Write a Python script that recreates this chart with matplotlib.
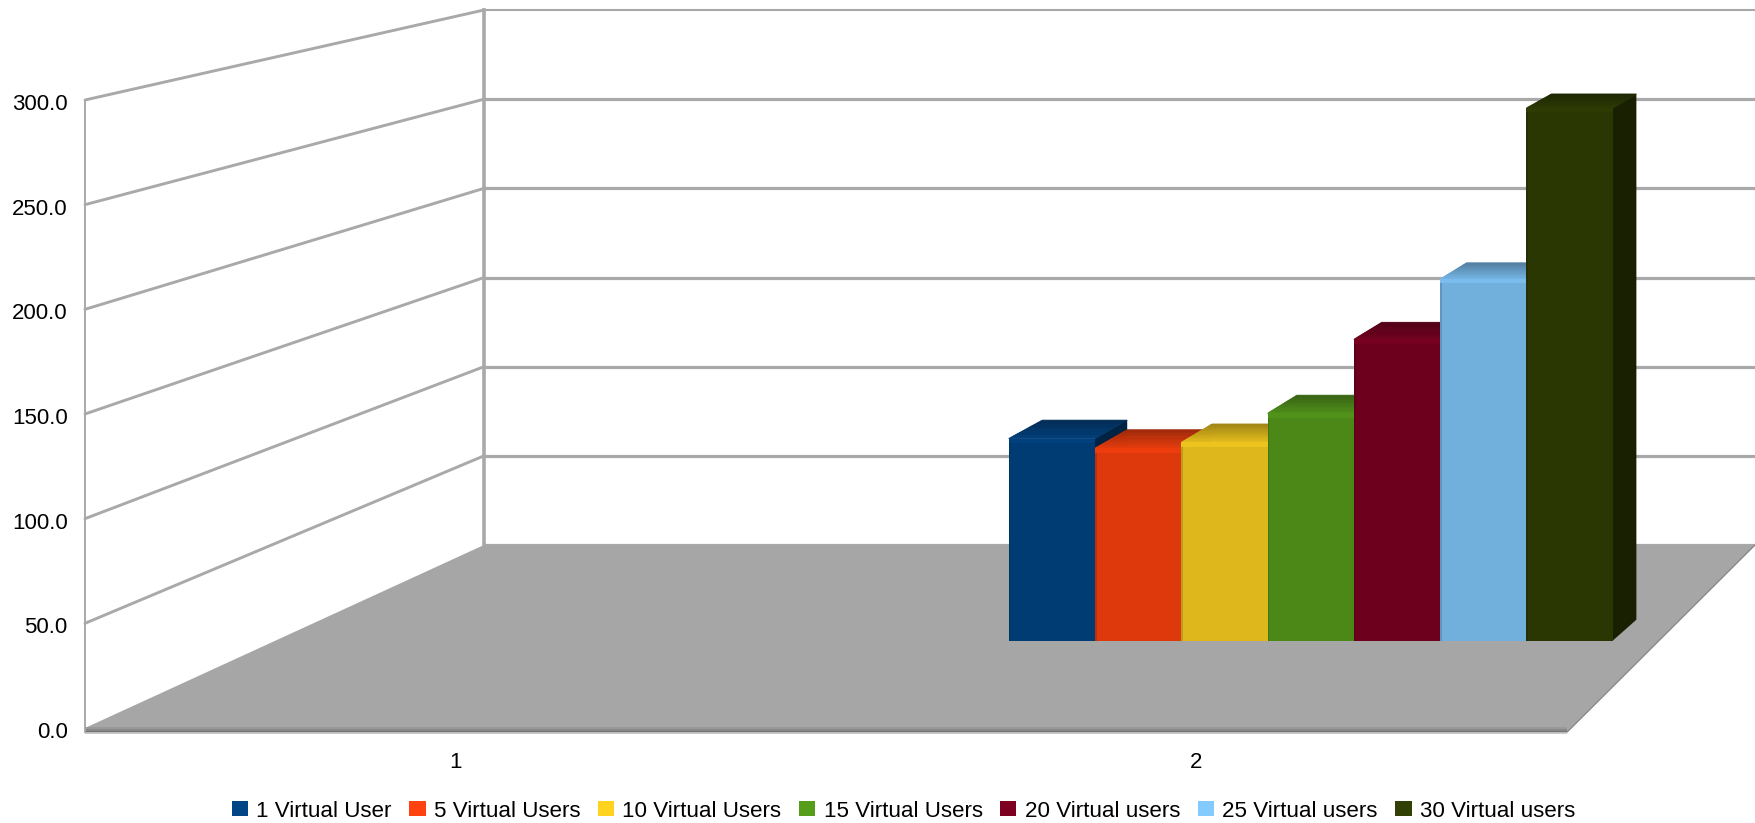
#!/usr/bin/env python
# -*- coding: utf-8 -*-

import matplotlib
matplotlib.use("Agg")

import matplotlib.pyplot as plt
import numpy as np
from matplotlib.patches import ConnectionPatch, Patch, Polygon
from matplotlib.transforms import IdentityTransform, ScaledTranslation

W, H = 1755, 823

series_names = ["1 Virtual User", "5 Virtual Users", "10 Virtual Users", "15 Virtual Users",
                "20 Virtual users", "25 Virtual users", "30 Virtual users"]
series_values = [104, 99, 102, 117, 155, 186, 274]
series_colors = ["#004586", "#ff420e", "#ffd320", "#579d1c", "#7e0021", "#83caff", "#314004"]
value_ticks = [0, 50, 100, 150, 200, 250, 300]
value_labels = ["0.0", "50.0", "100.0", "150.0", "200.0", "250.0", "300.0"]
categories = [1, 2]

GREY = "#a9a9a9"

plt.rcParams["font.family"] = ["Liberation Sans", "DejaVu Sans"]


def box(left, right, top, bottom):
    # pixel box (from the top left) to figure fractions
    return [left / W, 1 - bottom / H, (right - left) / W, (bottom - top) / H]


def shade(color, f):
    return tuple(np.array(matplotlib.colors.to_rgb(color)) * f)


def depth_dx(s):
    # the depth offset gets smaller to the right, the picture has perspective
    return 0.39 - (s + 0.5) * 0.0165


fig = plt.figure(figsize=(W / 100, H / 100), dpi=100)
fig.patch.set_facecolor("white")

# back wall
ax_back = fig.add_axes(box(484, 1755, 10, 545), zorder=0)
ax_back.set_xlim(0, 1)
ax_back.set_ylim(0, 300)
ax_back.set_yticks(value_ticks[:-1])
ax_back.set_xticks([])
ax_back.tick_params(left=False, labelleft=False)
ax_back.grid(axis="y", color=GREY, lw=2.3)
ax_back.axhline(300, color=GREY, lw=1.5, clip_on=False)
for side in ["top", "right", "bottom"]:
    ax_back.spines[side].set_visible(False)
ax_back.spines["left"].set_color(GREY)
ax_back.spines["left"].set_linewidth(2.6)

# front plane, carries the real tick labels
ax_front = fig.add_axes(box(85, 1567, 100, 728), zorder=2)
ax_front.patch.set_alpha(0)
ax_front.set_xlim(0.5, 2.5)
ax_front.set_ylim(0, 300)
ax_front.set_yticks(value_ticks)
ax_front.set_yticklabels(value_labels, fontsize=16, color="black")
ax_front.set_xticks(categories)
ax_front.set_xticklabels([str(c) for c in categories], fontsize=16, color="black")
ax_front.tick_params(left=False, bottom=False)
ax_front.tick_params(axis="y", pad=9)
ax_front.tick_params(axis="x", pad=13.5)
down = ScaledTranslation(0, -2 / 100, fig.dpi_scale_trans)
for lab in ax_front.get_yticklabels():
    lab.set_transform(lab.get_transform() + down)
for side in ["top", "right", "bottom"]:
    ax_front.spines[side].set_visible(False)
ax_front.spines["left"].set_color(GREY)
ax_front.spines["left"].set_linewidth(1.4)
ax_front.spines["left"].set_bounds(-2, 300)

# side wall lines
for v in value_ticks[1:]:
    fig.add_artist(ConnectionPatch(xyA=(0.5, v), coordsA=ax_front.transData,
                                   xyB=(0, v), coordsB=ax_back.transData,
                                   color=GREY, lw=2.1, zorder=1))

# floor
corners = [ax_front.transData.transform((0.5, 0)), ax_back.transData.transform((0, 0)),
           ax_back.transData.transform((1, 0)), ax_front.transData.transform((2.5, -2)),
           ax_front.transData.transform((0.5, -2))]
fig.add_artist(Polygon(corners, closed=True, facecolor="#a6a6a6", edgecolor="none",
                       transform=IdentityTransform(), zorder=1))
fig.add_artist(ConnectionPatch(xyA=(2.5, -2), coordsA=ax_front.transData,
                               xyB=(1, 0), coordsB=ax_back.transData,
                               color="#8a8a8a", lw=1.0, zorder=1))
for v, c in [(-0.2, "#989898"), (-1.0, "#848484"), (-1.8, "#6f6f6f"), (-2.6, "#c4c4c4")]:
    ax_front.plot([0.5, 2.5], [v, v], color=c, lw=1.3, clip_on=False, solid_capstyle="butt")

# bars
ax_bars = fig.add_axes(box(1008.7, 1612.7, 640.7 - 300 * 1.944, 640.7), zorder=5)
ax_bars.patch.set_alpha(0)
ax_bars.axis("off")
ax_bars.set_xlim(-0.5, 6.5)
ax_bars.set_ylim(0, 300)

base_rise = 10.8
back_scale = 0.987

for i, (v, c) in enumerate(zip(series_values, series_colors)):
    z = 10 + i * 3
    xl, xr = i - 0.5, i + 0.5
    dl, dr = depth_dx(xl), depth_dx(xr)
    back_top = v * back_scale + base_rise

    # side face
    ax_bars.add_patch(Polygon([(xr, 0), (xr + dr, base_rise), (xr + dr, back_top), (xr, v)],
                              facecolor=shade(c, 0.5), edgecolor="none", clip_on=False, zorder=z))

    # top face, dark at the back and bright at the front
    n = 16
    for k in range(n):
        f0, f1 = k / n, (k + 1) / n
        pts = [(xl + dl * f0, v + (back_top - v) * f0), (xr + dr * f0, v + (back_top - v) * f0),
               (xr + dr * f1, v + (back_top - v) * f1), (xl + dl * f1, v + (back_top - v) * f1)]
        col = shade(c, 0.9 - 0.28 * f0)
        ax_bars.add_patch(Polygon(pts, facecolor=col, edgecolor=col, lw=0.6, clip_on=False, zorder=z + 1))

    # front face
    ax_bars.bar(i, v, width=1, color=shade(c, 0.865), edgecolor="none", clip_on=False, zorder=z + 2)
    ax_bars.bar(i - 0.49, v, width=0.02, color=shade(c, 0.74), clip_on=False, zorder=z + 2)
    ax_bars.bar(i, 2.2, bottom=v - 2.2, width=1, color=shade(c, 0.93), clip_on=False, zorder=z + 2)

# legend
handles = [Patch(facecolor=c, edgecolor="none") for c in series_colors]
fig.legend(handles, series_names, ncol=7, loc="center", bbox_to_anchor=(0.5148, 0.0143),
           frameon=False, fontsize=16.1, handlelength=0.72, handleheight=0.67,
           handletextpad=0.37, columnspacing=0.795, borderpad=0, labelcolor="black")

fig.savefig("out.png", dpi=100)
plt.close(fig)
